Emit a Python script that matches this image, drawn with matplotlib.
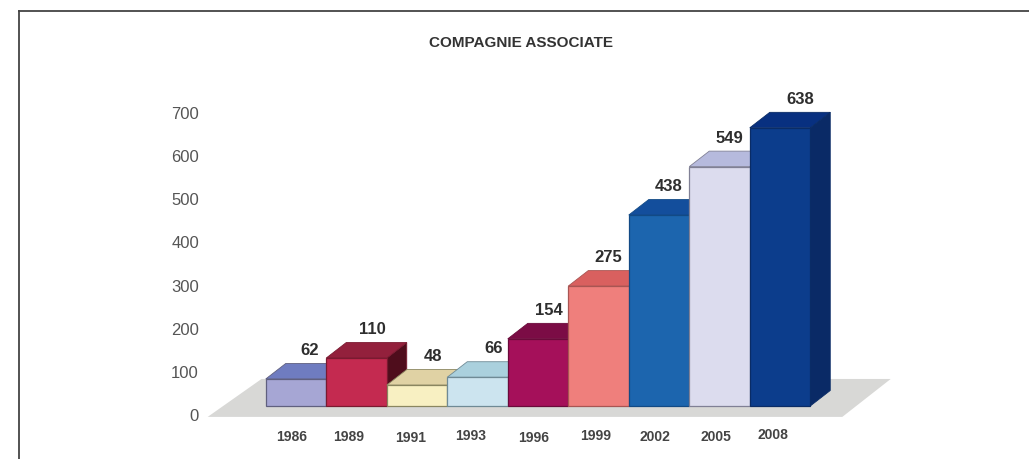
import matplotlib
matplotlib.use("Agg")
import matplotlib.pyplot as plt
from matplotlib.patches import Polygon
from matplotlib.transforms import ScaledTranslation

plt.rcParams['font.family'] = ['Liberation Sans', 'DejaVu Sans']

title = "COMPAGNIE ASSOCIATE"
years = ["1986", "1989", "1991", "1993", "1996", "1999", "2002", "2005", "2008"]
values = [62, 110, 48, 66, 154, 275, 438, 549, 638]
y_ticks = [0, 100, 200, 300, 400, 500, 600, 700]

front_colors = ["#a6a6d4", "#c42a50", "#f8f0c2", "#cce4ef", "#a5105a", "#ef7f7c", "#1c65ae", "#dcdcee", "#0c3d8c"]
top_colors = ["#6f7cc0", "#93203c", "#e0d2a4", "#aad0dd", "#7b0c45", "#d9605f", "#134e9c", "#b6badd", "#083080"]
side_colors = ["#4a4f85", "#4f0d1c", "#a89a70", "#7fa0ad", "#4f082d", "#a04040", "#0e3a75", "#8f92b5", "#0a2a66"]
edge_colors = ["#60607f", "#7a1a30", "#8a8660", "#6f8a95", "#6a0a3a", "#a85553", "#124a85", "#808095", "#0a2c66"]

# hand-placement of the labels in the original, in pixels
value_label_dx = [-6, -4, -4, -4, -9, -10, -10, -10, 0]
year_label_dx = [-4, -8, -6, -7, -4, -3, -4, -4, -7]
year_label_dy = [0, 0, -1, 1, -1, 1, 0, 0, 2]

W, H = 1029, 459
fig = plt.figure(figsize=(W / 100, H / 100), dpi=100, facecolor="white")

# pixel geometry of the plot
PX_LEFT, PX_TOP = 19, 11
PX_BASE = 406            # pixel row of value 0 on the bar fronts
PX_CENTER0 = 296         # pixel column of the first bar centre
PX_STEP = 60.5           # px per category
PX_UNIT = 0.436          # px per value unit
DX = 20 / PX_STEP        # depth in category units
DY = 15.5 / PX_UNIT      # depth in value units

ax = fig.add_axes([PX_LEFT / W, 0, (W - PX_LEFT) / W, (H - PX_TOP) / H])
ax.set_xlim((PX_LEFT - PX_CENTER0) / PX_STEP, (W - PX_CENTER0) / PX_STEP)
ax.set_ylim((PX_BASE - H) / PX_UNIT, (PX_BASE - PX_TOP) / PX_UNIT)
for s in ("right", "bottom"):
    ax.spines[s].set_visible(False)
for s in ("left", "top"):
    ax.spines[s].set_color("#444444")
    ax.spines[s].set_linewidth(1.3)
ax.set_yticks([])

# floor
n = len(values)
FLOOR_FRONT = -25
FLOOR_BACK = 62
floor = [(-1.46, FLOOR_FRONT), (n - 1 + 1.03, FLOOR_FRONT),
         (n - 1 + 1.83, FLOOR_BACK), (-0.57, FLOOR_BACK)]
ax.add_patch(Polygon(floor, closed=True, fc="#d8d8d6", ec="none", zorder=1))

# bars, painted left to right
for i, v in enumerate(values):
    z = 2 + i
    l, r = i - 0.5, i + 0.5
    ax.add_patch(Polygon([(r, 0), (r + DX, DY), (r + DX, v + DY), (r, v)], closed=True,
                         fc=side_colors[i], ec=edge_colors[i], lw=0.6, zorder=z))
    ax.add_patch(Polygon([(l, v), (r, v), (r + DX, v + DY), (l + DX, v + DY)], closed=True,
                         fc=top_colors[i], ec=edge_colors[i], lw=0.6, zorder=z))
    ax.bar(i, v, width=1.0, color=front_colors[i], edgecolor=edge_colors[i], linewidth=0.9, zorder=z)
    ax.annotate(str(v), xy=(i + DX, v + DY), xytext=(value_label_dx[i], 13), textcoords="offset pixels",
                ha="center", va="center", fontsize=12, fontweight="bold", color="#2e2e2e", zorder=30)

# category labels
ax.set_xticks(range(n))
ax.set_xticklabels(years, fontsize=10, fontweight="bold", color="#444444")
ax.tick_params(axis="x", length=0, pad=-(H - 430) * 0.72)
for lab, dx, dy in zip(ax.get_xticklabels(), year_label_dx, year_label_dy):
    lab.set_transform(lab.get_transform() + ScaledTranslation(dx / 100, dy / 100, fig.dpi_scale_trans))

# value axis, drawn on the floor's front edge
PX_V0, PX_V700 = 415, 113
ax_v = fig.add_axes([PX_LEFT / W + 180 / W, 1 - PX_V0 / H, 0.01, (PX_V0 - PX_V700) / H])
ax_v.patch.set_alpha(0)
ax_v.set_ylim(0, 700)
ax_v.set_xticks([])
ax_v.set_yticks(y_ticks)
ax_v.set_yticklabels([str(t) for t in y_ticks], fontsize=12, color="#555555")
ax_v.tick_params(axis="y", length=0, pad=0)
for s in ax_v.spines.values():
    s.set_visible(False)

fig.text(521 / W, 1 - 43 / H, title, ha="center", va="center", fontsize=11,
         fontweight="bold", color="#333333")

fig.savefig("out.png", dpi=100)
